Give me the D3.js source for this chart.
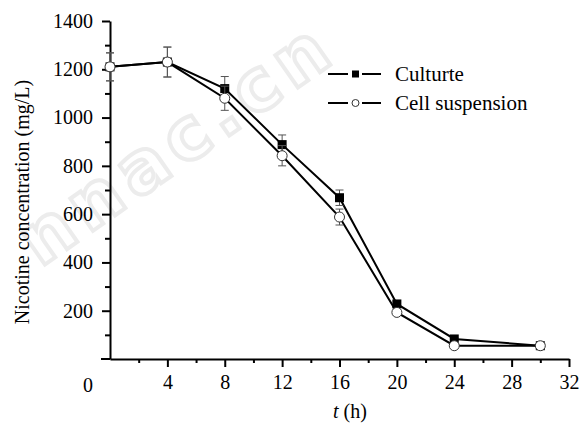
<!DOCTYPE html>
<meta charset="utf-8">
<style>
  body { margin: 0; background: #fff; }
  text { font-family: "Times New Roman", "Liberation Serif", serif; fill: #000; }
</style>
<script src="https://cdn.jsdelivr.net/npm/d3@7"></script>
<body>
</body>
<script>
// time points (h)
var hours = [0, 4, 8, 12, 16, 20, 24, 30];
// nicotine concentration (mg/L)
var culture = [1210, 1230, 1120, 888, 668, 228, 83, 55];
var cultureErr = [58, 62, 50, 40, 32, 10, 6, 5];
var cellSusp = [1210, 1230, 1080, 842, 588, 193, 55, 55];
var cellErr = [58, 62, 50, 42, 33, 8, 5, 5];
var xTicks = [4, 8, 12, 16, 20, 24, 28, 32];
var yTicks = [200, 400, 600, 800, 1000, 1200, 1400];
var seriesNames = ["Culturte", "Cell suspension"];

var width = 586, height = 427;
var margin = {left: 110, right: 17, top: 21, bottom: 68};

var svg = d3.select("body").append("svg")
    .attr("width", width)
    .attr("height", height);

// faint watermark
svg.append("text")
    .attr("transform", "translate(40,268) rotate(-35)")
    .attr("textLength", 360)
    .style("font-family", "DejaVu Sans")
    .style("font-size", "72px")
    .style("font-weight", "bold")
    .style("fill", "none")
    .style("stroke", "#ececec")
    .style("stroke-width", 4)
    .text("nnac.cn");

var x = d3.scaleLinear().domain([0, 32]).range([margin.left, width - margin.right]);
var y = d3.scaleLinear().domain([0, 1400]).range([height - margin.bottom, margin.top]);

// y axis
var yAxis = svg.append("g")
    .attr("transform", "translate(" + margin.left + ",0)")
    .call(d3.axisLeft(y).tickValues(d3.range(100, 1400, 200)).tickSize(5).tickSizeOuter(0).tickFormat(""));
yAxis.append("g")
    .call(d3.axisLeft(y).tickValues(yTicks).tickSize(8).tickPadding(9).tickFormat(d3.format("d")))
    .select(".domain").remove();

// x axis
var xAxis = svg.append("g")
    .attr("transform", "translate(0," + y(0) + ")")
    .call(d3.axisBottom(x).tickValues(d3.range(2, 32, 4)).tickSize(4).tickSizeOuter(0).tickFormat(""));
xAxis.append("g")
    .call(d3.axisBottom(x).tickValues(xTicks).tickSize(8).tickPadding(8).tickFormat(d3.format("d")))
    .select(".domain").remove();
xAxis.append("line")
    .attr("x1", x(0) - 9).attr("x2", x(0))
    .attr("stroke", "#000").attr("stroke-width", 2);
xAxis.append("text")
    .attr("x", x(0) - 22).attr("y", 33)
    .attr("text-anchor", "middle")
    .style("font-size", "20px")
    .text("0");

svg.selectAll(".domain").attr("stroke-width", 2);
svg.selectAll(".tick line").attr("stroke-width", 2);
svg.selectAll(".tick text").style("font-size", "20px");

// axis titles
svg.append("text")
    .attr("transform", "translate(29," + (margin.top + (height - margin.bottom - margin.top) / 2 + 12) + ") rotate(-90)")
    .attr("text-anchor", "middle")
    .style("font-size", "20px")
    .text("Nicotine concentration (mg/L)");

var xt = svg.append("text")
    .attr("x", 350).attr("y", 418)
    .attr("text-anchor", "middle")
    .style("font-size", "20px");
xt.append("tspan").style("font-style", "italic").text("t");
xt.append("tspan").text(" (h)");

// data
var series = [
  {name: seriesNames[0], values: culture, err: cultureErr, marker: "square"},
  {name: seriesNames[1], values: cellSusp, err: cellErr, marker: "circle"}
];

var line = d3.line()
    .x(function(d) { return x(d.t); })
    .y(function(d) { return y(d.v); });

series.forEach(function(s) {
  var pts = hours.map(function(h, i) { return {t: h, v: s.values[i], e: s.err[i]}; });

  svg.append("path")
      .datum(pts)
      .attr("d", line)
      .attr("fill", "none")
      .attr("stroke", "#000")
      .attr("stroke-width", 2);

  var eb = svg.append("g").selectAll("g").data(pts).enter().append("g")
      .attr("stroke", "#555").attr("stroke-width", 1);
  eb.append("line")
      .attr("x1", function(d) { return x(d.t); }).attr("x2", function(d) { return x(d.t); })
      .attr("y1", function(d) { return y(d.v - d.e); }).attr("y2", function(d) { return y(d.v + d.e); });
  eb.append("line")
      .attr("x1", function(d) { return x(d.t) - 4; }).attr("x2", function(d) { return x(d.t) + 4; })
      .attr("y1", function(d) { return y(d.v + d.e); }).attr("y2", function(d) { return y(d.v + d.e); });
  eb.append("line")
      .attr("x1", function(d) { return x(d.t) - 4; }).attr("x2", function(d) { return x(d.t) + 4; })
      .attr("y1", function(d) { return y(d.v - d.e); }).attr("y2", function(d) { return y(d.v - d.e); });

  var m = svg.append("g").selectAll(".m").data(pts).enter();
  if (s.marker == "square") {
    m.append("rect")
        .attr("x", function(d) { return x(d.t) - 4.5; })
        .attr("y", function(d) { return y(d.v) - 4.5; })
        .attr("width", 9).attr("height", 9)
        .attr("fill", "#000");
  } else {
    m.append("circle")
        .attr("cx", function(d) { return x(d.t); })
        .attr("cy", function(d) { return y(d.v); })
        .attr("r", 5)
        .attr("fill", "#fff")
        .attr("stroke", "#333")
        .attr("stroke-width", 1);
  }
});

// legend
var legend = svg.append("g").attr("transform", "translate(328,74)");
series.forEach(function(s, i) {
  var g = legend.append("g").attr("transform", "translate(0," + i * 29 + ")");
  g.append("line").attr("x1", 0).attr("x2", 20).attr("stroke", "#000").attr("stroke-width", 2);
  g.append("line").attr("x1", 34).attr("x2", 53).attr("stroke", "#000").attr("stroke-width", 2);
  if (s.marker == "square") {
    g.append("rect").attr("x", 24).attr("y", -3.5).attr("width", 7).attr("height", 7).attr("fill", "#000");
  } else {
    g.append("circle").attr("cx", 27.5).attr("cy", 0).attr("r", 3.5)
        .attr("fill", "#fff").attr("stroke", "#333").attr("stroke-width", 1);
  }
  g.append("text").attr("x", 67).attr("y", 7)
      .style("font-size", "21px")
      .text(s.name);
});
</script>
